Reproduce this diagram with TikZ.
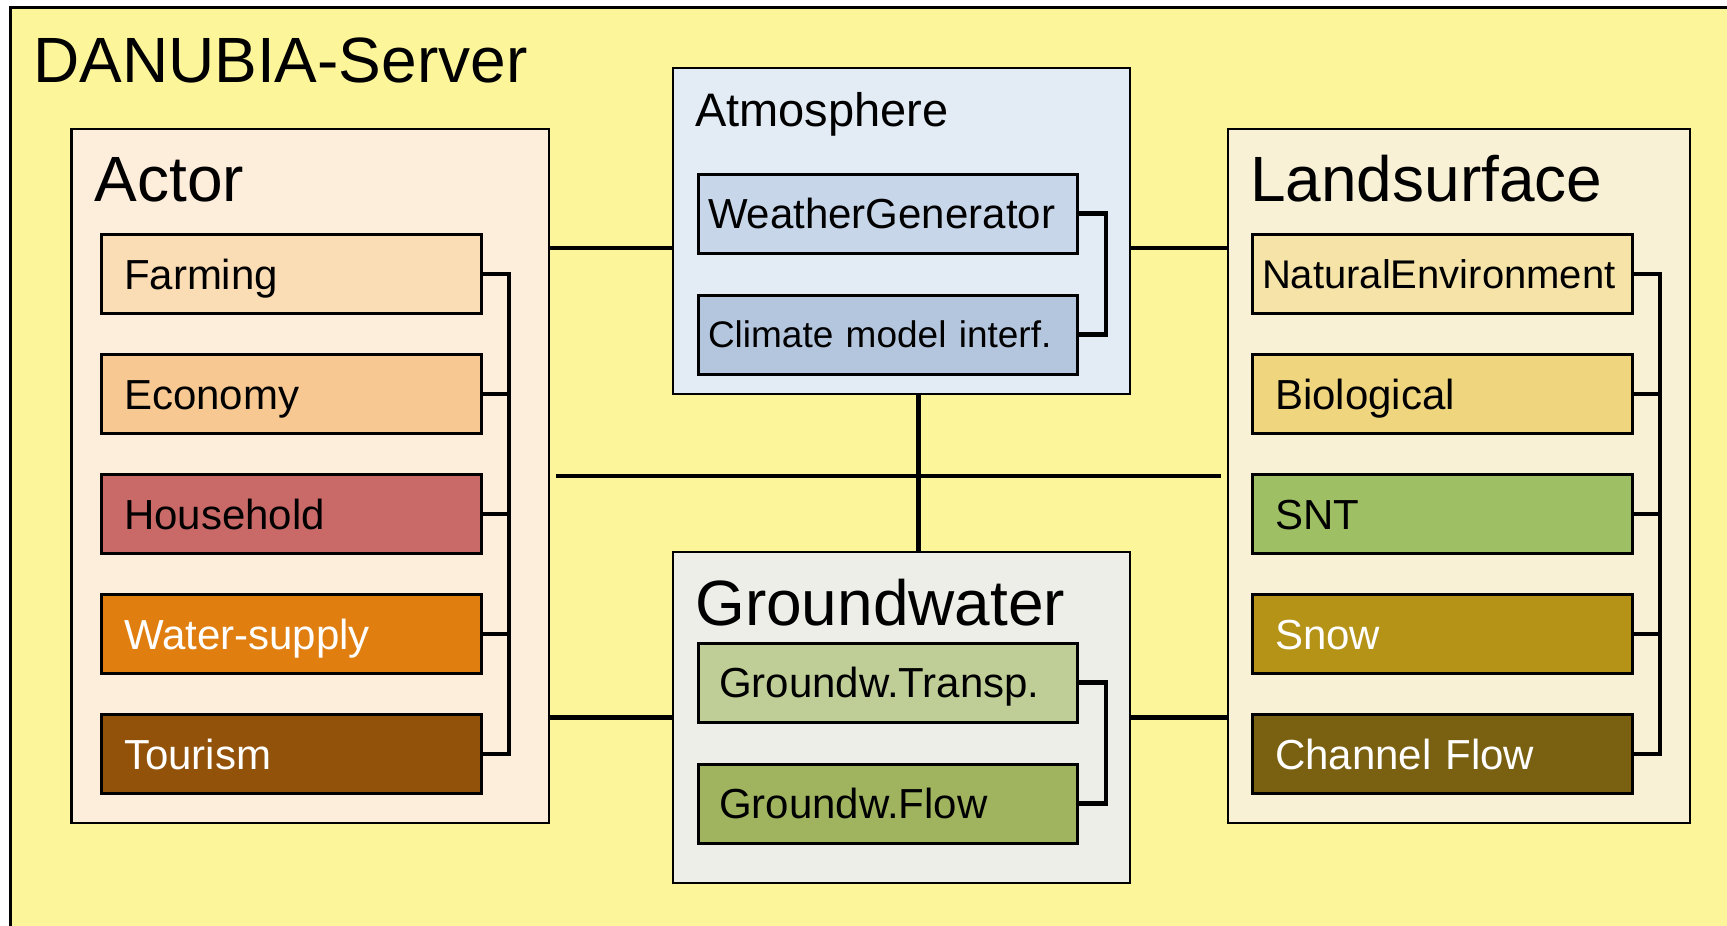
\documentclass[tikz,border=0pt]{standalone}
\usepackage{fontspec}
\setmainfont{Liberation Sans}
\usetikzlibrary{positioning}
\definecolor{serverbg}{HTML}{FDF59A}
\definecolor{actorbg}{HTML}{FDEEDC}
\definecolor{farmc}{HTML}{FADCB5}
\definecolor{econc}{HTML}{F7C892}
\definecolor{housec}{HTML}{C96A68}
\definecolor{waterc}{HTML}{E07F10}
\definecolor{tourc}{HTML}{93520A}
\definecolor{atmobg}{HTML}{E3EBF5}
\definecolor{weathc}{HTML}{C8D6EA}
\definecolor{climc}{HTML}{B4C6DE}
\definecolor{landbg}{HTML}{F9F1D6}
\definecolor{natc}{HTML}{F5E3A8}
\definecolor{bioc}{HTML}{EFD57E}
\definecolor{sntc}{HTML}{9EBF64}
\definecolor{snowc}{HTML}{B59317}
\definecolor{chanc}{HTML}{7A6111}
\definecolor{groundbg}{HTML}{ECEEE7}
\definecolor{transc}{HTML}{BFCD97}
\definecolor{flowc}{HTML}{A0B45F}
\begin{document}
\begin{tikzpicture}[x=1pt, y=-1pt,
    group/.style={draw, line width=2.6pt, anchor=north west, inner sep=0pt, outer sep=0pt},
    mod/.style={draw, line width=3pt, anchor=north west, minimum height=79pt, inner xsep=23pt, inner ysep=0pt, outer sep=0pt, text width=334pt, align=left, text height=30pt, text depth=0pt, font=\fontsize{42}{48}\selectfont},
    title/.style={anchor=base west, inner sep=0pt, font=\fontsize{64}{70}\selectfont},
    link/.style={line width=4.2pt}]
    \useasboundingbox (0,0) rectangle (1727,926);
    \fill[serverbg] (10,7.5) rectangle (1727,926);
    \draw[line width=3pt] (1727,7.5) -- (10,7.5) -- (10,926);
    \node[title] (server) at (33,82.6) {DANUBIA-Server};
    \node[group, fill=actorbg, minimum width=477.5pt, minimum height=694pt] (actor) at (71.5,129) {};
    \node[group, fill=landbg, minimum width=462pt, minimum height=694pt] (land) at (1228,129) {};
    \node[group, fill=atmobg, minimum width=457pt, minimum height=326pt] (atmo) at (673,68) {};
    \node[group, fill=groundbg, minimum width=457pt, minimum height=331pt] (ground) at (673,552) {};
    \node[title] (actorT) at ([shift={(23,72.6)}]actor.north west) {Actor};
    \node[title] (landT) at ([shift={(22,72.6)}]land.north west) {Landsurface};
    \node[title, font=\fontsize{47}{52}\selectfont] (atmoT) at ([shift={(22,58.7)}]atmo.north west) {Atmosphere};
    \node[title] (groundT) at ([shift={(22,73.6)}]ground.north west) {Groundwater};
    \node[mod, fill=farmc] (farm) at (101,234.6) {Farming};
    \node[mod, fill=econc, below=41pt of farm] (econ) {Economy};
    \node[mod, fill=housec, below=41pt of econ] (house) {Household};
    \node[mod, fill=waterc, text=white, below=41pt of house] (water) {Water-supply};
    \node[mod, fill=tourc, text=white, below=41pt of water] (tour) {Tourism};
    \node[mod, fill=natc, inner xsep=10pt, text width=360pt, text height=29pt, font=\fontsize{40}{46}\selectfont] (nat) at (1252,234.6) {NaturalEnvironment};
    \node[mod, fill=bioc, below=41pt of nat] (bio) {Biological};
    \node[mod, fill=sntc, below=41pt of bio] (snt) {SNT};
    \node[mod, fill=snowc, text=white, below=41pt of snt] (snow) {Snow};
    \node[mod, fill=chanc, text=white, below=41pt of snow] (chan) {Channel Flow};
    \node[mod, fill=weathc, inner xsep=10pt, text width=359pt] (weath) at (698,174) {WeatherGenerator};
    \node[mod, fill=climc, inner xsep=10pt, text width=359pt, text height=26.5pt, font=\fontsize{37}{42}\selectfont, below=42pt of weath] (clim) {Climate model interf.};
    \node[mod, fill=transc, inner xsep=21pt, text width=337pt] (trans) at (698,643) {Groundw.Transp.};
    \node[mod, fill=flowc, inner xsep=21pt, text width=337pt, below=42pt of trans] (flow) {Groundw.Flow};
    \draw[link] (farm.east) -- ++(28,0) |- (tour.east);
    \foreach \m in {econ,house,water} \draw[link] (\m.east) -- ++(28,0);
    \draw[link] (nat.east) -- ++(28,0) |- (chan.east);
    \foreach \m in {bio,snt,snow} \draw[link] (\m.east) -- ++(28,0);
    \draw[link] (weath.east) -- ++(29,0) |- (clim.east);
    \draw[link] (trans.east) -- ++(29,0) |- (flow.east);
    \coordinate (upper) at (0,248);
    \draw[link] (actor.east |- upper) -- (atmo.west |- upper);
    \draw[link] (atmo.east |- upper) -- (land.west |- upper);
    \draw[link] ([xshift=7pt]actor.east) -- ([xshift=-7pt]land.west);
    \draw[link] ([xshift=17pt]atmo.south) -- ([xshift=17pt]ground.north);
    \draw[link] (actor.east |- ground.west) -- (ground.west);
    \draw[link] (ground.east) -- (land.west |- ground.east);
\end{tikzpicture}
\end{document}
